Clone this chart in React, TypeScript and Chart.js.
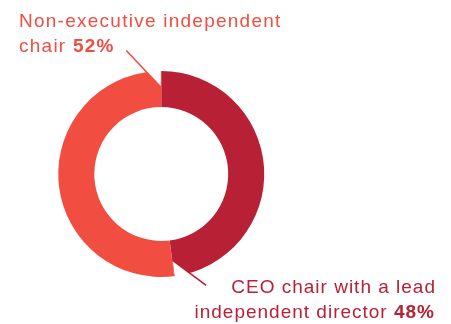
import React, { useEffect, useRef } from "react";
import { Chart, registerables } from "chart.js";

Chart.register(...registerables);

const categories = ["CEO chair with a lead independent director", "Non-executive independent chair"];
const values = [48, 52];
const colors = ["#B82035", "#F14D41"];
const topLabelLines = ["Non-executive independent", "chair "];
const bottomLabelLines = ["CEO chair with a lead", "independent director "];

type Run = { text: string; bold: boolean };

function drawRuns(ctx: CanvasRenderingContext2D, runs: Run[], x: number, y: number, align: "left" | "right", color: string, spacing: number) {
  const fontFor = (b: boolean) => `${b ? "bold " : ""}19px "Liberation Sans", Arial, sans-serif`;
  (ctx as any).letterSpacing = `${spacing}px`;
  ctx.textAlign = "left";
  ctx.textBaseline = "alphabetic";
  ctx.fillStyle = color;
  const widths = runs.map((r) => {
    ctx.font = fontFor(r.bold);
    return ctx.measureText(r.text).width;
  });
  const total = widths.reduce((a, b) => a + b, 0) - spacing;
  let cx = align === "left" ? x : x - total;
  runs.forEach((r, i) => {
    ctx.font = fontFor(r.bold);
    ctx.fillText(r.text, cx, y);
    cx += widths[i];
  });
  (ctx as any).letterSpacing = "0px";
}

const leaderPlugin = {
  id: "leaders",
  afterDraw(chart: any) {
    const ctx: CanvasRenderingContext2D = chart.ctx;
    const meta = chart.getDatasetMeta(0);
    const arc = meta.data[0] as any;
    const cx = arc.x, cy = arc.y, R = arc.outerRadius, r = arc.innerRadius;
    const sA = arc.startAngle, eA = arc.endAngle;
    const mid = (R + r) / 2 + 2;
    ctx.save();
    // top leader (light segment)
    const e1 = { x: cx + mid * Math.cos(sA) - 0.5, y: cy + mid * Math.sin(sA) };
    const s1 = { x: e1.x - 34.5, y: e1.y - 36.5 };
    ctx.fillStyle = "#ffffff";
    ctx.beginPath();
    ctx.moveTo(s1.x, s1.y);
    ctx.lineTo(e1.x, e1.y);
    ctx.lineTo(cx + R * Math.cos(sA) - 0.3, s1.y);
    ctx.closePath();
    ctx.fill();
    ctx.strokeStyle = colors[1];
    ctx.lineWidth = 1.6;
    ctx.beginPath();
    ctx.moveTo(s1.x, s1.y);
    ctx.lineTo(e1.x, e1.y);
    ctx.stroke();
    // bottom leader (dark segment)
    const e2 = { x: cx + mid * Math.cos(eA) + 0.5, y: cy + mid * Math.sin(eA) };
    const s2 = { x: e2.x + 33.5, y: e2.y + 25 };
    const b2 = { x: cx + (R + 20) * Math.cos(eA) + 0.3, y: cy + (R + 20) * Math.sin(eA) };
    ctx.fillStyle = "#ffffff";
    ctx.beginPath();
    ctx.moveTo(e2.x, e2.y);
    ctx.lineTo(s2.x, s2.y);
    ctx.lineTo(b2.x, b2.y);
    ctx.closePath();
    ctx.fill();
    ctx.strokeStyle = colors[0];
    ctx.beginPath();
    ctx.moveTo(e2.x, e2.y);
    ctx.lineTo(s2.x, s2.y);
    ctx.stroke();

    // labels
    drawRuns(ctx, [{ text: topLabelLines[0], bold: false }], 19, 26.7, "left", colors[1], 1.25);
    drawRuns(ctx, [{ text: topLabelLines[1], bold: false }, { text: `${values[1]}%`, bold: true }], 19, 52.3, "left", colors[1], 1.25);
    drawRuns(ctx, [{ text: bottomLabelLines[0], bold: false }], 435, 293.3, "right", colors[0], 1.0);
    drawRuns(ctx, [{ text: bottomLabelLines[1], bold: false }, { text: `${values[0]}%`, bold: true }], 434, 318.3, "right", colors[0], 1.0);
    ctx.restore();
  },
};

export default function App() {
  const ref = useRef<HTMLCanvasElement>(null);
  useEffect(() => {
    if (!ref.current) return;
    const chart = new Chart(ref.current, {
      type: "doughnut",
      data: {
        labels: categories,
        datasets: [
          {
            data: values,
            backgroundColor: colors,
            borderWidth: 0,
          },
        ],
      },
      options: {
        responsive: false,
        animation: false,
        cutout: "65%",
        layout: { padding: { left: 58, top: 71, right: 186.5, bottom: 47 } },
        plugins: { legend: { display: false }, tooltip: { enabled: false } },
      },
      plugins: [leaderPlugin],
    });
    return () => chart.destroy();
  }, []);
  return (
    <div style={{ position: "fixed", left: 0, top: 0, width: 451, height: 324, background: "#fff" }}>
      <canvas ref={ref} width={451} height={324} style={{ display: "block" }} />
    </div>
  );
}
